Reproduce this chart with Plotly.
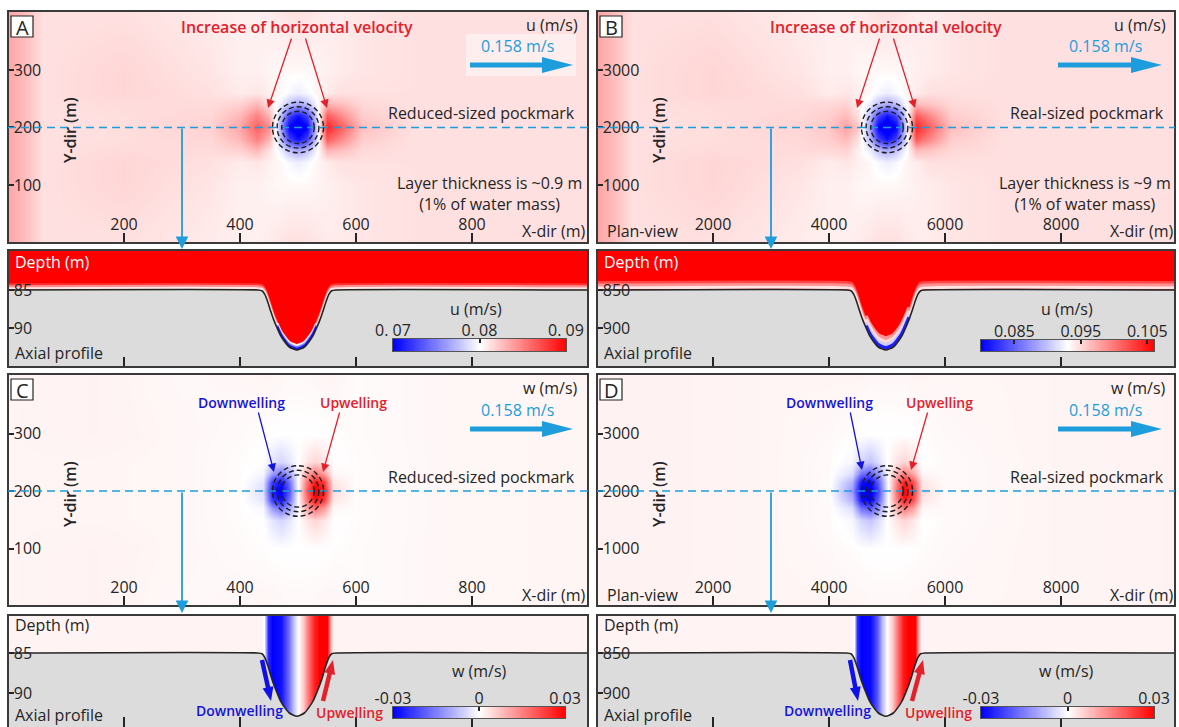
import math
import plotly.graph_objects as go
from plotly.colors import sample_colorscale

W, H = 1179, 727
FONT = "Open Sans, DejaVu Sans, Arial, sans-serif"
INK = "#252525"
RED = "#e4202a"
BLUE_TXT = "#1414dc"
CYAN = "#1e9ddc"
GREY = "#dcdcdc"
WT = 500
CS = [[0.0, "rgb(0,0,255)"], [0.5, "rgb(255,255,255)"], [1.0, "rgb(255,0,0)"]]

# ---------------------------------------------------------------- data
# Panel A : reduced-sized pockmark, u (m/s) in plan view (x, y in m)
planA_x = [0, 30, 60, 200, 350, 400, 430, 450, 470, 485, 500, 515, 530, 550, 575, 610, 700, 1000]
planA_y = [0, 100, 140, 160, 180, 200, 220, 240, 260, 300, 400]
planA_u = [
    [0.0835, 0.0826, 0.0812, 0.0812, 0.0808, 0.0806, 0.0806, 0.0808, 0.0810, 0.0812, 0.0812, 0.0812, 0.0810, 0.0808, 0.0808, 0.0810, 0.0812, 0.0812],
    [0.0835, 0.0826, 0.0812, 0.0816, 0.0810, 0.0806, 0.0806, 0.0804, 0.0803, 0.0803, 0.0803, 0.0803, 0.0804, 0.0806, 0.0808, 0.0810, 0.0812, 0.0812],
    [0.0835, 0.0826, 0.0812, 0.0816, 0.0812, 0.0808, 0.0810, 0.0806, 0.0803, 0.0797, 0.0793, 0.0797, 0.0803, 0.0808, 0.0812, 0.0812, 0.0812, 0.0812],
    [0.0835, 0.0826, 0.0812, 0.0814, 0.0814, 0.0818, 0.0828, 0.0812, 0.0792, 0.0775, 0.0765, 0.0775, 0.0793, 0.0830, 0.0825, 0.0815, 0.0812, 0.0812],
    [0.0835, 0.0826, 0.0812, 0.0813, 0.0816, 0.0828, 0.0850, 0.0830, 0.0772, 0.0725, 0.0705, 0.0725, 0.0775, 0.0865, 0.0845, 0.0820, 0.0812, 0.0812],
    [0.0835, 0.0826, 0.0812, 0.0813, 0.0818, 0.0835, 0.0862, 0.0845, 0.0760, 0.0700, 0.0685, 0.0700, 0.0768, 0.0885, 0.0862, 0.0825, 0.0812, 0.0812],
    [0.0835, 0.0826, 0.0812, 0.0813, 0.0816, 0.0828, 0.0850, 0.0830, 0.0772, 0.0725, 0.0705, 0.0725, 0.0775, 0.0865, 0.0845, 0.0820, 0.0812, 0.0812],
    [0.0835, 0.0826, 0.0812, 0.0814, 0.0814, 0.0818, 0.0828, 0.0812, 0.0792, 0.0775, 0.0765, 0.0775, 0.0793, 0.0830, 0.0825, 0.0815, 0.0812, 0.0812],
    [0.0835, 0.0826, 0.0812, 0.0816, 0.0812, 0.0808, 0.0810, 0.0806, 0.0803, 0.0797, 0.0793, 0.0797, 0.0803, 0.0808, 0.0812, 0.0812, 0.0812, 0.0812],
    [0.0835, 0.0826, 0.0812, 0.0816, 0.0810, 0.0806, 0.0806, 0.0804, 0.0803, 0.0803, 0.0803, 0.0803, 0.0804, 0.0806, 0.0808, 0.0810, 0.0812, 0.0812],
    [0.0835, 0.0826, 0.0812, 0.0812, 0.0808, 0.0806, 0.0806, 0.0808, 0.0810, 0.0812, 0.0812, 0.0812, 0.0810, 0.0808, 0.0808, 0.0810, 0.0812, 0.0812],
]

# Panel B : real-sized pockmark, u (m/s)
planB_x = [0, 300, 600, 2000, 3500, 4000, 4300, 4500, 4700, 4850, 5000, 5150, 5300, 5500, 5750, 6100, 7000, 10000]
planB_y = [0, 1000, 1400, 1600, 1800, 2000, 2200, 2400, 2600, 3000, 4000]
planB_u = [
    [0.0976, 0.0964, 0.0946, 0.0946, 0.0940, 0.0938, 0.0938, 0.0940, 0.0943, 0.0946, 0.0946, 0.0946, 0.0943, 0.0940, 0.0940, 0.0943, 0.0946, 0.0946],
    [0.0976, 0.0964, 0.0946, 0.0951, 0.0943, 0.0938, 0.0938, 0.0935, 0.0934, 0.0934, 0.0934, 0.0934, 0.0935, 0.0938, 0.0940, 0.0943, 0.0946, 0.0946],
    [0.0976, 0.0964, 0.0946, 0.0951, 0.0946, 0.0940, 0.0943, 0.0938, 0.0934, 0.0926, 0.0921, 0.0926, 0.0934, 0.0940, 0.0946, 0.0946, 0.0946, 0.0946],
    [0.0976, 0.0964, 0.0946, 0.0948, 0.0948, 0.0950, 0.0953, 0.0938, 0.0920, 0.0898, 0.0885, 0.0898, 0.0921, 0.0965, 0.0960, 0.0950, 0.0946, 0.0946],
    [0.0976, 0.0964, 0.0946, 0.0947, 0.0950, 0.0955, 0.0965, 0.0946, 0.0894, 0.0833, 0.0807, 0.0833, 0.0898, 0.1015, 0.0990, 0.0956, 0.0946, 0.0946],
    [0.0976, 0.0964, 0.0946, 0.0947, 0.0952, 0.0958, 0.0978, 0.0958, 0.0878, 0.0800, 0.0781, 0.0800, 0.0888, 0.1040, 0.1010, 0.0963, 0.0946, 0.0946],
    [0.0976, 0.0964, 0.0946, 0.0947, 0.0950, 0.0955, 0.0965, 0.0946, 0.0894, 0.0833, 0.0807, 0.0833, 0.0898, 0.1015, 0.0990, 0.0956, 0.0946, 0.0946],
    [0.0976, 0.0964, 0.0946, 0.0948, 0.0948, 0.0950, 0.0953, 0.0938, 0.0920, 0.0898, 0.0885, 0.0898, 0.0921, 0.0965, 0.0960, 0.0950, 0.0946, 0.0946],
    [0.0976, 0.0964, 0.0946, 0.0951, 0.0946, 0.0940, 0.0943, 0.0938, 0.0934, 0.0926, 0.0921, 0.0926, 0.0934, 0.0940, 0.0946, 0.0946, 0.0946, 0.0946],
    [0.0976, 0.0964, 0.0946, 0.0951, 0.0943, 0.0938, 0.0938, 0.0935, 0.0934, 0.0934, 0.0934, 0.0934, 0.0935, 0.0938, 0.0940, 0.0943, 0.0946, 0.0946],
    [0.0976, 0.0964, 0.0946, 0.0946, 0.0940, 0.0938, 0.0938, 0.0940, 0.0943, 0.0946, 0.0946, 0.0946, 0.0943, 0.0940, 0.0940, 0.0943, 0.0946, 0.0946],
]

# Panel C : reduced-sized pockmark, w (m/s)
planC_x = [0, 150, 300, 400, 440, 455, 470, 485, 500, 515, 530, 545, 560, 600, 750, 1000]
planC_y = [0, 100, 150, 170, 185, 200, 215, 230, 250, 300, 400]
planC_w = [
    [0.0012, 0.0015, 0.0008, 0.0010, 0.0012, 0.0012, 0.0010, 0.0008, 0.0008, 0.0008, 0.0010, 0.0012, 0.0012, 0.0005, 0.0010, 0.0012],
    [0.0012, 0.0015, 0.0010, 0.0006, 0.0003, 0.0001, 0.0000, 0.0000, 0.0000, 0.0000, 0.0000, 0.0001, 0.0003, 0.0005, 0.0010, 0.0012],
    [0.0012, 0.0012, 0.0010, 0.0004, 0.0000, -0.0030, -0.0050, -0.0030, 0.0000, 0.0030, 0.0050, 0.0030, 0.0000, 0.0004, 0.0010, 0.0012],
    [0.0012, 0.0012, 0.0010, 0.0004, -0.0010, -0.0120, -0.0170, -0.0110, 0.0000, 0.0110, 0.0170, 0.0120, 0.0010, 0.0004, 0.0010, 0.0012],
    [0.0012, 0.0012, 0.0010, 0.0004, -0.0030, -0.0230, -0.0280, -0.0170, 0.0000, 0.0170, 0.0280, 0.0230, 0.0030, 0.0004, 0.0010, 0.0012],
    [0.0012, 0.0012, 0.0010, 0.0004, -0.0040, -0.0270, -0.0310, -0.0200, 0.0000, 0.0200, 0.0310, 0.0270, 0.0040, 0.0004, 0.0010, 0.0012],
    [0.0012, 0.0012, 0.0010, 0.0004, -0.0030, -0.0230, -0.0280, -0.0170, 0.0000, 0.0170, 0.0280, 0.0230, 0.0030, 0.0004, 0.0010, 0.0012],
    [0.0012, 0.0012, 0.0010, 0.0004, -0.0010, -0.0120, -0.0170, -0.0110, 0.0000, 0.0110, 0.0170, 0.0120, 0.0010, 0.0004, 0.0010, 0.0012],
    [0.0012, 0.0012, 0.0010, 0.0004, 0.0000, -0.0030, -0.0050, -0.0030, 0.0000, 0.0030, 0.0050, 0.0030, 0.0000, 0.0004, 0.0010, 0.0012],
    [0.0012, 0.0015, 0.0010, 0.0006, 0.0003, 0.0001, 0.0000, 0.0000, 0.0000, 0.0000, 0.0000, 0.0001, 0.0003, 0.0005, 0.0010, 0.0012],
    [0.0012, 0.0015, 0.0008, 0.0010, 0.0012, 0.0012, 0.0010, 0.0008, 0.0008, 0.0008, 0.0010, 0.0012, 0.0012, 0.0005, 0.0010, 0.0012],
]

# Panel D : real-sized pockmark, w (m/s)
planD_x = [0, 1500, 3000, 4000, 4400, 4550, 4700, 4850, 5000, 5150, 5300, 5450, 5600, 6000, 7500, 10000]
planD_y = [0, 1000, 1500, 1700, 1850, 2000, 2150, 2300, 2500, 3000, 4000]
planD_w = [
    [0.0015, 0.0015, 0.0012, 0.0012, 0.0012, 0.0012, 0.0010, 0.0010, 0.0010, 0.0010, 0.0010, 0.0012, 0.0012, 0.0010, 0.0012, 0.0015],
    [0.0015, 0.0015, 0.0012, 0.0008, 0.0004, 0.0001, 0.0000, 0.0000, 0.0000, 0.0000, 0.0000, 0.0001, 0.0004, 0.0008, 0.0012, 0.0015],
    [0.0015, 0.0015, 0.0012, 0.0006, -0.0010, -0.0050, -0.0070, -0.0040, 0.0000, 0.0030, 0.0050, 0.0030, 0.0000, 0.0006, 0.0012, 0.0015],
    [0.0015, 0.0015, 0.0012, 0.0006, -0.0040, -0.0170, -0.0200, -0.0130, -0.0010, 0.0090, 0.0160, 0.0110, 0.0010, 0.0006, 0.0012, 0.0015],
    [0.0015, 0.0015, 0.0012, 0.0006, -0.0090, -0.0280, -0.0300, -0.0190, -0.0020, 0.0140, 0.0270, 0.0210, 0.0030, 0.0006, 0.0012, 0.0015],
    [0.0015, 0.0015, 0.0012, 0.0006, -0.0120, -0.0310, -0.0330, -0.0220, -0.0020, 0.0160, 0.0300, 0.0240, 0.0040, 0.0006, 0.0012, 0.0015],
    [0.0015, 0.0015, 0.0012, 0.0006, -0.0090, -0.0280, -0.0300, -0.0190, -0.0020, 0.0140, 0.0270, 0.0210, 0.0030, 0.0006, 0.0012, 0.0015],
    [0.0015, 0.0015, 0.0012, 0.0006, -0.0040, -0.0170, -0.0200, -0.0130, -0.0010, 0.0090, 0.0160, 0.0110, 0.0010, 0.0006, 0.0012, 0.0015],
    [0.0015, 0.0015, 0.0012, 0.0006, -0.0010, -0.0050, -0.0070, -0.0040, 0.0000, 0.0030, 0.0050, 0.0030, 0.0000, 0.0006, 0.0012, 0.0015],
    [0.0015, 0.0015, 0.0012, 0.0008, 0.0004, 0.0001, 0.0000, 0.0000, 0.0000, 0.0000, 0.0000, 0.0001, 0.0004, 0.0008, 0.0012, 0.0015],
    [0.0015, 0.0015, 0.0012, 0.0012, 0.0012, 0.0012, 0.0010, 0.0010, 0.0010, 0.0010, 0.0010, 0.0012, 0.0012, 0.0010, 0.0012, 0.0015],
]

# Pockmark geometry (centre, depth-contour radii) and section lines
pock_red = (500, 200)
pock_real = (5000, 2000)
contour_r_red = [28, 36, 44]
contour_r_real = [280, 360, 440]
section_x_red, section_x_real = 300, 3000

# Axial profiles : seafloor depth (m)
sea_x_red = [0, 430, 438, 443, 448, 453, 458, 464, 470, 477, 485, 498, 511, 519, 526, 532, 538, 543, 548, 553, 558, 566, 1000]
sea_z_red = [85, 85, 85.1, 85.6, 86.6, 87.8, 88.9, 90.0, 91.0, 91.8, 92.5, 92.9, 92.5, 91.8, 91.0, 90.0, 88.9, 87.8, 86.6, 85.6, 85.1, 85, 85]
sea_x_real = [0, 4300, 4380, 4430, 4480, 4530, 4580, 4640, 4700, 4770, 4850, 4980, 5110, 5190, 5260, 5320, 5380, 5430, 5480, 5530, 5580, 5660, 10000]
sea_z_real = [850, 850, 851, 856, 866, 878, 889, 900, 910, 918, 925, 929, 925, 918, 910, 900, 889, 878, 866, 856, 851, 850, 850]

# Upper water column u (m/s) in the profiles (saturated above the colour range)
profA_u = [[0.095, 0.095], [0.095, 0.095]]
profB_u = [[0.110, 0.110], [0.110, 0.110]]
# near-bottom layers: height above seafloor (m) and u
bandA_h, bandA_u = [0.7, 0.45, 0.2], [0.088, 0.0845, 0.081]
pitA_h, pitA_u, pitA_lim = [0.6, 0.35, 0.12], [0.0795, 0.075, 0.0705], (462, 534)
bandB_h, bandB_u = [10, 6.5, 3], [0.1025, 0.0985, 0.0945]
pitB_h, pitB_u, pitB_lim = [16, 11.5, 7, 3], [0.0985, 0.095, 0.0905, 0.0815], (4600, 5400)

# w (m/s) across the profile (vertical bands)
profC_x = [0, 436, 442, 448, 456, 470, 482, 492, 500, 508, 518, 528, 536, 550, 556, 560, 1000]
profC_w = [0.0014, 0.0014, 0.0, -0.025, -0.030, -0.028, -0.018, -0.008, 0.0, 0.006, 0.016, 0.026, 0.030, 0.030, 0.012, 0.0014, 0.0014]
profD_x = [0, 4380, 4430, 4480, 4560, 4700, 4820, 4920, 5000, 5080, 5180, 5280, 5360, 5480, 5540, 5580, 10000]
profD_w = [0.0014, 0.0014, 0.0, -0.025, -0.030, -0.029, -0.020, -0.008, 0.0, 0.006, 0.016, 0.027, 0.030, 0.030, 0.012, 0.0014, 0.0014]

# colour ranges and colour-bar ticks
rngA, rngB, rngW = (0.07, 0.09), (0.080, 0.106), (-0.03, 0.03)
cbA_ticks, cbA_text = [0.07, 0.08, 0.09], ["0. 07", "0. 08", "0. 09"]
cbB_ticks, cbB_text = [0.085, 0.095, 0.105], ["0.085", "0.095", "0.105"]
cbW_ticks, cbW_text = [-0.03, 0.0, 0.03], ["-0.03", "0", "0.03"]

# ---------------------------------------------------------------- helpers
def X(px):
    return px / W


def Y(py):
    return 1 - py / H


def col(v, rng):
    f = (v - rng[0]) / (rng[1] - rng[0])
    f = min(max(f, 0), 1)
    return sample_colorscale(CS, [f], colortype="rgb")[0]


fig = go.Figure()
shapes, annos = [], []

panels = [
    ("", (8, 588), (11, 243), [0, 1000], [-1, 402.5], [200, 400, 600, 800], [100, 200, 300], "plan"),
    ("2", (597, 1175), (11, 243), [0, 9966], [-10, 4025], [2000, 4000, 6000, 8000], [1000, 2000, 3000], "plan"),
    ("3", (8, 588), (374, 606), [0, 1000], [0, 403.5], [200, 400, 600, 800], [100, 200, 300], "plan"),
    ("4", (597, 1175), (374, 606), [0, 9966], [0, 4035], [2000, 4000, 6000, 8000], [1000, 2000, 3000], "plan"),
    ("5", (8, 588), (250, 367), [0, 1000], [95.13, 79.74], [200, 400, 600, 800], [85, 90], "prof"),
    ("6", (597, 1175), (250, 367), [0, 9966], [951.3, 797.4], [2000, 4000, 6000, 8000], [850, 900], "prof"),
    ("7", (8, 588), (615, 727), [0, 1000], [94.25, 80.25], [200, 400, 600, 800], [85, 90], "prof"),
    ("8", (597, 1175), (615, 727), [0, 9966], [942.5, 802.5], [2000, 4000, 6000, 8000], [850, 900], "prof"),
]
tickfont = dict(family=FONT, size=16, color=INK, weight=WT)
lay = {}
for pid, xp, yp, xr, yr, xt, yt, kind in panels:
    lay["xaxis" + pid] = dict(domain=[X(xp[0]), X(xp[1])], range=xr, anchor="y" + pid,
                              showgrid=False, zeroline=False, showline=False, automargin=False,
                              ticks="inside", ticklen=10, tickwidth=1.5, tickcolor=INK,
                              tickvals=xt, tickfont=tickfont,
                              showticklabels=(kind == "plan"), ticklabelposition="inside",
                              fixedrange=True)
    lay["yaxis" + pid] = dict(domain=[Y(yp[1]), Y(yp[0])], range=yr, anchor="x" + pid,
                              showgrid=False, zeroline=False, showline=False, automargin=False,
                              ticks="inside", ticklen=6, tickwidth=1.5, tickcolor=INK,
                              tickvals=yt, tickfont=tickfont, ticklabelposition="inside",
                              fixedrange=True)
    bottom = yp[1] if yp[1] < 700 else 735
    shapes.append(dict(type="rect", xref="paper", yref="paper", x0=X(xp[0]), x1=X(xp[1]),
                       y0=Y(bottom), y1=Y(yp[0]), line=dict(color="#3a3a3a", width=2)))

cbars = [
    ("9", (393, 566), (339, 351), rngA, cbA_ticks, cbA_text),
    ("10", (981, 1154), (340, 351), rngB, cbB_ticks, cbB_text),
    ("11", (393, 565), (707, 718), rngW, cbW_ticks, cbW_text),
    ("12", (981, 1154), (707, 718), rngW, cbW_ticks, cbW_text),
]
for pid, xp, yp, rng, tv, tt in cbars:
    lay["xaxis" + pid] = dict(domain=[X(xp[0]), X(xp[1])], range=list(rng), anchor="y" + pid,
                              side="top", showgrid=False, zeroline=False, showline=True,
                              mirror=True, linecolor="#555", linewidth=1, automargin=False,
                              ticks="inside", ticklen=4, tickwidth=1.5, tickcolor=INK,
                              ticklabelstandoff=-4,
                              tickvals=tv, ticktext=tt, tickfont=tickfont, fixedrange=True)
    lay["yaxis" + pid] = dict(domain=[Y(yp[1]), Y(yp[0])], range=[0, 1], anchor="x" + pid,
                              showgrid=False, zeroline=False, showline=True, mirror=True,
                              linecolor="#555", linewidth=1, showticklabels=False,
                              automargin=False, ticks="", fixedrange=True)
    n = 80
    ramp = [rng[0] + (rng[1] - rng[0]) * i / (n - 1) for i in range(n)]
    fig.add_trace(go.Heatmap(x=ramp, y=[0.5], z=[ramp], colorscale=CS, zmin=rng[0], zmax=rng[1],
                             zsmooth="best", showscale=False, hoverinfo="skip",
                             xaxis="x" + pid, yaxis="y" + pid))

plan_sets = [
    ("", planA_x, planA_y, planA_u, rngA, pock_red, contour_r_red, section_x_red, 1000),
    ("2", planB_x, planB_y, planB_u, rngB, pock_real, contour_r_real, section_x_real, 10000),
    ("3", planC_x, planC_y, planC_w, rngW, pock_red, contour_r_red, section_x_red, 1000),
    ("4", planD_x, planD_y, planD_w, rngW, pock_real, contour_r_real, section_x_real, 10000),
]
for pid, xs, ys, zs, rng, cen, radii, secx, xmax in plan_sets:
    fig.add_trace(go.Heatmap(x=xs, y=ys, z=zs, colorscale=CS, zmin=rng[0], zmax=rng[1],
                             zsmooth="best", showscale=False, hoverinfo="skip",
                             xaxis="x" + pid, yaxis="y" + pid))
    xr = "x" + pid
    yr = "y" + pid
    shapes.append(dict(type="line", xref=xr, yref=yr, x0=0, x1=xmax, y0=cen[1], y1=cen[1],
                       line=dict(color=CYAN, width=1.6, dash="8px,5px")))
    for r in radii:
        shapes.append(dict(type="circle", xref=xr, yref=yr, x0=cen[0] - r, x1=cen[0] + r,
                           y0=cen[1] - r, y1=cen[1] + r,
                           line=dict(color="#1e1e1e", width=1.4, dash="5px,3px")))
    head_py = 249 if pid in ("", "2") else 613
    tail_py = 127 if pid in ("", "2") else 491
    annos.append(dict(x=secx, y=Y(head_py), xref=xr, yref="paper", ax=0, ay=tail_py - head_py,
                      axref="pixel", ayref="pixel", showarrow=True, arrowhead=2, arrowwidth=1.8,
                      arrowsize=1.4, arrowcolor=CYAN, text=""))


def seafloor(pid, sx, sz, ybot):
    fig.add_trace(go.Scatter(x=[sx[0], sx[-1]], y=[ybot, ybot], mode="lines",
                             line=dict(width=0, color=GREY), hoverinfo="skip",
                             xaxis="x" + pid, yaxis="y" + pid))
    fig.add_trace(go.Scatter(x=sx, y=sz, mode="lines", fill="tonexty", fillcolor=GREY,
                             line=dict(color=INK, width=1.6, shape="spline", smoothing=0.6),
                             hoverinfo="skip", xaxis="x" + pid, yaxis="y" + pid))


def bands(pid, sx, sz, hs, us, rng, width, lim=None):
    for h, u in zip(hs, us):
        pts = [(x, z - h) for x, z in zip(sx, sz) if lim is None or lim[0] <= x <= lim[1]]
        fig.add_trace(go.Scatter(x=[p[0] for p in pts], y=[p[1] for p in pts], mode="lines",
                                 line=dict(color=col(u, rng), width=width, shape="spline", smoothing=0.6),
                                 hoverinfo="skip", xaxis="x" + pid, yaxis="y" + pid))


fig.add_trace(go.Heatmap(x=[0, 1000], y=[78, 97], z=profA_u, colorscale=CS, zmin=rngA[0], zmax=rngA[1],
                         zsmooth="best", showscale=False, hoverinfo="skip", xaxis="x5", yaxis="y5"))
bands("5", sea_x_red, sea_z_red, bandA_h, bandA_u, rngA, 2.6)
bands("5", sea_x_red, sea_z_red, pitA_h, pitA_u, rngA, 2.6, pitA_lim)
seafloor("5", sea_x_red, sea_z_red, 99)

fig.add_trace(go.Heatmap(x=[0, 10000], y=[780, 960], z=profB_u, colorscale=CS, zmin=rngB[0], zmax=rngB[1],
                         zsmooth="best", showscale=False, hoverinfo="skip", xaxis="x6", yaxis="y6"))
bands("6", sea_x_real, sea_z_real, bandB_h, bandB_u, rngB, 3.0)
bands("6", sea_x_real, sea_z_real, pitB_h, pitB_u, rngB, 3.4, pitB_lim)
seafloor("6", sea_x_real, sea_z_real, 990)

fig.add_trace(go.Heatmap(x=profC_x, y=[78, 97], z=[profC_w, profC_w], colorscale=CS, zmin=rngW[0], zmax=rngW[1],
                         zsmooth="best", showscale=False, hoverinfo="skip", xaxis="x7", yaxis="y7"))
seafloor("7", sea_x_red, sea_z_red, 99)

fig.add_trace(go.Heatmap(x=profD_x, y=[780, 970], z=[profD_w, profD_w], colorscale=CS, zmin=rngW[0], zmax=rngW[1],
                         zsmooth="best", showscale=False, hoverinfo="skip", xaxis="x8", yaxis="y8"))
seafloor("8", sea_x_real, sea_z_real, 990)


def arrow_path(x0, y0, x1, y1, shaft, hlen, hwid):
    dx, dy = x1 - x0, y1 - y0
    L = math.hypot(dx, dy)
    ux, uy = dx / L, dy / L
    nx, ny = -uy, ux
    bx, by = x1 - ux * hlen, y1 - uy * hlen
    pts = [(x0 + nx * shaft / 2, y0 + ny * shaft / 2), (bx + nx * shaft / 2, by + ny * shaft / 2),
           (bx + nx * hwid / 2, by + ny * hwid / 2), (x1, y1),
           (bx - nx * hwid / 2, by - ny * hwid / 2), (bx - nx * shaft / 2, by - ny * shaft / 2),
           (x0 - nx * shaft / 2, y0 - ny * shaft / 2)]
    return "M " + " L ".join(f"{X(px):.5f},{Y(py):.5f}" for px, py in pts) + " Z"


def big_arrow(x0, y0, x1, y1, color, shaft, hlen, hwid):
    shapes.append(dict(type="path", xref="paper", yref="paper",
                       path=arrow_path(x0, y0, x1, y1, shaft, hlen, hwid),
                       fillcolor=color, line=dict(width=0)))


def txt(px, py, text, size=16, color=INK, anchor="center", weight=WT, angle=0):
    annos.append(dict(x=X(px), y=Y(py), xref="paper", yref="paper", text=text, showarrow=False,
                      xanchor=anchor, yanchor="middle", textangle=angle, align="center",
                      font=dict(family=FONT, size=size, color=color, weight=weight)))


def thin_arrow(hx, hy, tx, ty, color):
    annos.append(dict(x=X(hx), y=Y(hy), xref="paper", yref="paper", ax=tx - hx, ay=ty - hy,
                      axref="pixel", ayref="pixel", showarrow=True, arrowhead=2, arrowwidth=1.3,
                      arrowsize=1.3, arrowcolor=color, text=""))


def letter_box(x0, y0, ch):
    shapes.append(dict(type="rect", xref="paper", yref="paper", x0=X(x0), x1=X(x0 + 22),
                       y0=Y(y0 + 21), y1=Y(y0), fillcolor="white", line=dict(color=INK, width=1.2)))
    txt(x0 + 11, y0 + 11, ch, size=20, weight=400)


shapes.append(dict(type="rect", xref="paper", yref="paper", x0=X(466), x1=X(576), y0=Y(76), y1=Y(34),
                   fillcolor="rgba(255,255,255,0.45)", line=dict(width=0), layer="above"))

for dy in (0, 364):
    big_arrow(470, 65 + dy, 573, 65 + dy, CYAN, 5, 31, 16)
    big_arrow(1058, 65 + dy, 1162, 65 + dy, CYAN, 5, 31, 16)
    txt(517, 46 + dy, "0.158 m/s", color=CYAN)
    txt(1105, 46 + dy, "0.158 m/s", color=CYAN)
    txt(587, 231 + dy, "X-dir (m)", anchor="right")
    txt(1175, 231 + dy, "X-dir (m)", anchor="right")
    txt(605, 231 + dy, "Plan-view", anchor="left")
    txt(70, 130 + dy, "Y-dir (m)", angle=-90, weight=600)
    txt(659, 130 + dy, "Y-dir (m)", angle=-90, weight=600)
    txt(577, 113 + dy, "Reduced-sized pockmark", anchor="right")
    txt(1166, 113 + dy, "Real-sized pockmark", anchor="right")

letter_box(11, 16, "A")
letter_box(600, 16, "B")
letter_box(11, 379, "C")
letter_box(600, 379, "D")

txt(297, 27, "Increase of horizontal velocity", color=RED, weight=600)
txt(886, 27, "Increase of horizontal velocity", color=RED, weight=600)
thin_arrow(268, 108, 292, 37, RED)
thin_arrow(327, 108, 305, 37, RED)
thin_arrow(857, 108, 880, 37, RED)
thin_arrow(915, 108, 893, 37, RED)
txt(580, 25, "u (m/s)", anchor="right")
txt(1168, 25, "u (m/s)", anchor="right")
txt(489, 193, "Layer thickness is ~0.9 m<br>(1% of water mass)")
txt(1085, 193, "Layer thickness is ~9 m<br>(1% of water mass)")

txt(580, 388, "w (m/s)", anchor="right")
txt(1168, 388, "w (m/s)", anchor="right")
txt(241, 402, "Downwelling", size=14, color=BLUE_TXT, weight=600)
txt(353, 402, "Upwelling", size=14, color=RED, weight=600)
txt(829, 402, "Downwelling", size=14, color=BLUE_TXT, weight=600)
txt(939, 402, "Upwelling", size=14, color=RED, weight=600)
thin_arrow(274, 472, 258, 411, BLUE_TXT)
thin_arrow(323, 472, 340, 411, RED)
thin_arrow(862, 470, 850, 411, BLUE_TXT)
thin_arrow(911, 470, 928, 411, RED)

txt(13, 262, "Depth (m)", anchor="left", color="white")
txt(602, 262, "Depth (m)", anchor="left", color="white")
txt(13, 625, "Depth (m)", anchor="left")
txt(602, 625, "Depth (m)", anchor="left")
for x0 in (13, 602):
    txt(x0, 353, "Axial profile", anchor="left")
    txt(x0, 715, "Axial profile", anchor="left")
txt(476, 309, "u (m/s)")
txt(1067, 309, "u (m/s)")
txt(479, 671, "w (m/s)")
txt(1066, 671, "w (m/s)")
txt(239, 710, "Downwelling", size=14, color=BLUE_TXT, weight=600)
txt(349, 712, "Upwelling", size=14, color=RED, weight=600)
txt(828, 710, "Downwelling", size=14, color=BLUE_TXT, weight=600)
txt(938, 712, "Upwelling", size=14, color=RED, weight=600)
big_arrow(262, 660, 271, 701, "#1010e8", 4.5, 14, 11)
big_arrow(323, 701, 333, 660, RED, 4.5, 14, 11)
big_arrow(850, 660, 858, 701, "#1010e8", 4.5, 14, 11)
big_arrow(912, 701, 923, 660, RED, 4.5, 14, 11)

fig.update_layout(width=W, height=H, margin=dict(l=0, r=0, t=0, b=0, pad=0, autoexpand=False),
                  template="none", paper_bgcolor="white", plot_bgcolor="rgba(0,0,0,0)",
                  showlegend=False, shapes=shapes, annotations=annos,
                  font=dict(family=FONT, color=INK), **lay)
fig.write_html("out.html")
